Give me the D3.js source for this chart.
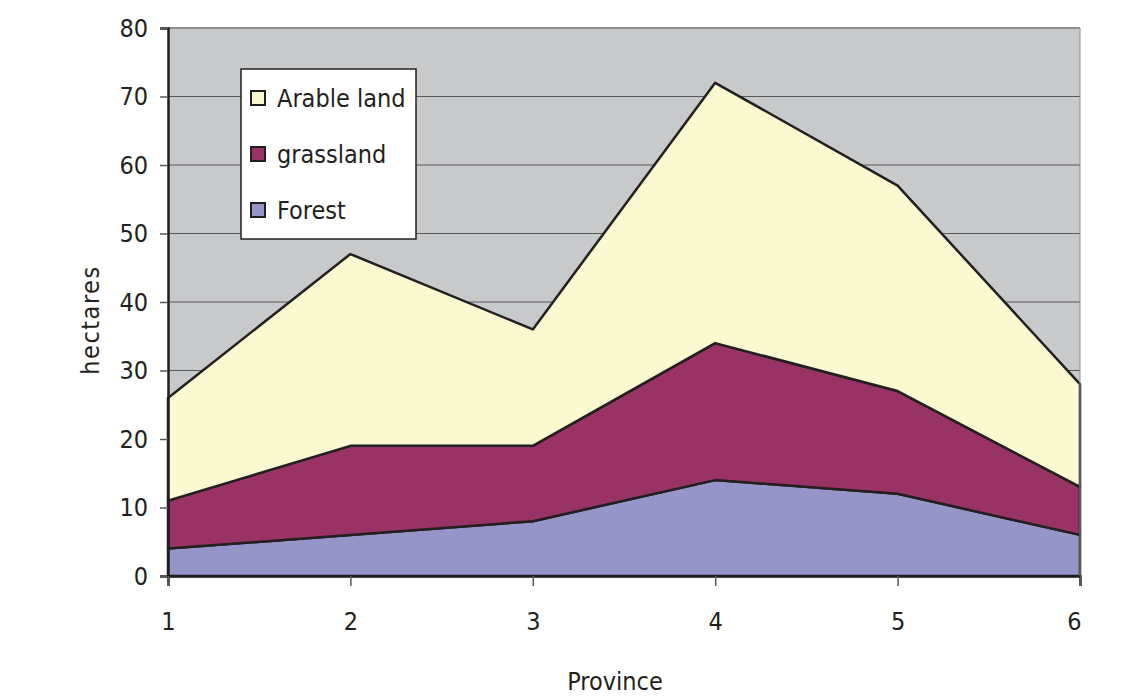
<!DOCTYPE html>
<html><head><meta charset="utf-8">
<script src="https://cdn.jsdelivr.net/npm/d3@7"></script>
<style>body{margin:0;background:#fff}svg{display:block}text{font-family:"DejaVu Sans Condensed","Open Sans",sans-serif;fill:#231f20}</style>
</head><body><svg id="c" width="1138" height="698"></svg>
<script>
const provinces = [1, 2, 3, 4, 5, 6];
const forest = [4, 6, 8, 14, 12, 6];
const grassland = [7, 13, 11, 20, 15, 7];
const arable = [15, 28, 17, 38, 30, 15];
const seriesNames = ["Forest", "grassland", "Arable land"];
const seriesColors = ["#9595c8", "#993366", "#fbf9d0"];
const yTicks = [0, 10, 20, 30, 40, 50, 60, 70, 80];

const rows = provinces.map((p, i) => ({p, "Forest": forest[i], "grassland": grassland[i], "Arable land": arable[i]}));
const stack = d3.stack().keys(seriesNames)(rows);

const svg = d3.select("#c");
const L = 168, R = 1080, T = 28, B = 576;
const x = d3.scaleLinear().domain([1, 6]).range([L, R]);
const y = d3.scaleLinear().domain([0, 80]).range([B, T]);

svg.append("rect").attr("x", L).attr("y", T).attr("width", R - L).attr("height", B - T).attr("fill", "#c8c9cb");
svg.append("line").attr("x1", L).attr("x2", R).attr("y1", T).attr("y2", T).attr("stroke", "#8e8f91").attr("stroke-width", 2);

svg.append("g").selectAll("line").data(yTicks.slice(1, -1)).join("line")
  .attr("x1", L).attr("x2", R).attr("y1", d => y(d)).attr("y2", d => y(d))
  .attr("stroke", "#58595b").attr("stroke-width", 1);

const area = d3.area().x(d => x(d.data.p)).y0(d => y(d[0])).y1(d => y(d[1]));
svg.append("g").selectAll("path").data(stack).join("path")
  .attr("d", area).attr("fill", (d, i) => seriesColors[i])
  .attr("stroke", "#231f20").attr("stroke-width", 2.5).attr("stroke-linejoin", "round");

const yAxis = svg.append("g").attr("transform", `translate(${L},0)`)
  .call(d3.axisLeft(y).tickValues(yTicks).tickSize(8).tickPadding(12));
const xAxis = svg.append("g").attr("transform", `translate(0,${B})`)
  .call(d3.axisBottom(x).tickValues(provinces).tickFormat(d3.format("d")).tickSize(10).tickPadding(26));
[yAxis, xAxis].forEach(a => {
  a.select(".domain").attr("stroke", "#231f20").attr("stroke-width", 2.5);
  a.selectAll(".tick line").attr("stroke", "#58595b").attr("stroke-width", 1.5);
  a.selectAll("text").style("font-size", "25px").attr("fill", "#231f20");
});
xAxis.selectAll(".tick text").attr("dx", (d) => d === 6 ? -6 : 0);
svg.append("line").attr("x1", R).attr("x2", R).attr("y1", T).attr("y2", B).attr("stroke", "#8e8f91").attr("stroke-width", 1);

svg.append("text").attr("x", 615).attr("y", 690).attr("text-anchor", "middle").style("font-size", "25px").text("Province");
svg.append("text").attr("transform", "translate(99,320) rotate(-90)").attr("text-anchor", "middle")
  .style("font-size", "25px").style("letter-spacing", "1.5px").text("hectares");

const lg = svg.append("g");
lg.append("rect").attr("x", 241).attr("y", 69).attr("width", 175).attr("height", 170).attr("fill", "#fff").attr("stroke", "#231f20").attr("stroke-width", 1.5);
const legendItems = [2, 1, 0];
legendItems.forEach((si, k) => {
  const cy = 98 + k * 56;
  lg.append("rect").attr("x", 251).attr("y", cy - 7).attr("width", 14).attr("height", 14)
    .attr("fill", seriesColors[si]).attr("stroke", "#231f20").attr("stroke-width", 2);
  lg.append("text").attr("x", 277).attr("y", cy + 9).style("font-size", "25px").text(seriesNames[si]);
});
</script></body></html>
